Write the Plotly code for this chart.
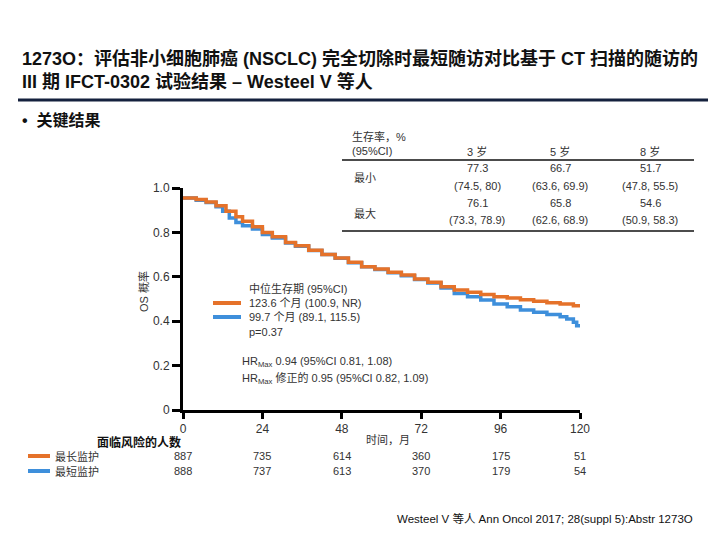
import plotly.graph_objects as go

# ---------------- data ----------------
t_long = [0, 4, 7, 10, 13, 16, 18, 21, 24, 27, 31, 34, 38, 42, 46, 50, 54, 58, 62, 66, 70, 74, 78, 82, 86, 90, 94, 98, 102, 106, 110, 114, 118, 120]
s_long = [0.955, 0.948, 0.937, 0.92, 0.895, 0.87, 0.85, 0.825, 0.80, 0.78, 0.755, 0.74, 0.72, 0.70, 0.685, 0.665, 0.645, 0.635, 0.62, 0.608, 0.59, 0.575, 0.555, 0.54, 0.53, 0.52, 0.51, 0.505, 0.497, 0.49, 0.483, 0.477, 0.47, 0.468]
t_short = [0, 4, 7, 10, 12, 14, 16, 18, 21, 24, 27, 31, 34, 38, 42, 46, 50, 54, 58, 62, 66, 70, 74, 78, 82, 86, 90, 94, 98, 102, 106, 110, 114, 116, 118, 119, 120]
s_short = [0.955, 0.945, 0.935, 0.915, 0.895, 0.865, 0.845, 0.83, 0.815, 0.79, 0.775, 0.752, 0.738, 0.718, 0.70, 0.683, 0.663, 0.645, 0.633, 0.618, 0.605, 0.588, 0.572, 0.55, 0.525, 0.51, 0.495, 0.478, 0.465, 0.45, 0.44, 0.43, 0.42, 0.41, 0.395, 0.38, 0.372]

x_ticks = [0, 24, 48, 72, 96, 120]
y_ticks = [0, 0.2, 0.4, 0.6, 0.8, 1.0]
y_tick_labels = ["0", "0.2", "0.4", "0.6", "0.8", "1.0"]
at_risk_long = [887, 735, 614, 360, 175, 51]
at_risk_short = [888, 737, 613, 370, 179, 54]
group_names = ["最长监护", "最短监护"]

table_cols = ["3 岁", "5 岁", "8 岁"]
table_rows = ["最小", "最大"]
table_est = [["77.3", "66.7", "51.7"], ["76.1", "65.8", "54.6"]]
table_ci = [["(74.5, 80)", "(63.6, 69.9)", "(47.8, 55.5)"], ["(73.3, 78.9)", "(62.6, 68.9)", "(50.9, 58.3)"]]

ORANGE = "#E5722A"
BLUE = "#3E8FDB"
FONT = "Liberation Sans, Arial, Noto Sans CJK SC, sans-serif"
TXT = "#333333"

# plot area in pixels
L, R, T, B = 183, 580, 188, 410
W, H = 720, 540

def px(x):
    return (x - L) / (R - L)

def py(y):
    return (B - y) / (B - T)

fig = go.Figure()
fig.add_trace(go.Scatter(x=t_short, y=s_short, mode="lines", line=dict(color=BLUE, width=3.5, shape="hv"),
                         showlegend=False, hoverinfo="skip"))
fig.add_trace(go.Scatter(x=t_long, y=s_long, mode="lines", line=dict(color=ORANGE, width=3.5, shape="hv"),
                         showlegend=False, hoverinfo="skip"))

ann = []
shapes = []

def text(x, y, s, size=11, color=TXT, anchor="left", bold=False, angle=0):
    if bold:
        s = "<b>" + s + "</b>"
    ann.append(dict(x=px(x), y=py(y), xref="paper", yref="paper", text=s, showarrow=False,
                    xanchor=anchor, yanchor="middle", textangle=angle,
                    font=dict(family=FONT, size=size, color=color)))

def hline(x0, x1, y, color, width):
    shapes.append(dict(type="line", xref="paper", yref="paper", x0=px(x0), x1=px(x1), y0=py(y), y1=py(y),
                       line=dict(color=color, width=width)))

# title
text(20, 58, "1273O：评估非小细胞肺癌 (NSCLC) 完全切除时最短随访对比基于 CT 扫描的随访的", size=18, color="#111111", bold=True)
text(20, 81, "III 期 IFCT-0302 试验结果 – Westeel V 等人", size=18, color="#111111", bold=True)
hline(18, 708, 100, "#14213D", 3)
text(20, 120, "•  关键结果", size=16, color="#111111", bold=True)

# survival table
text(350, 136, "生存率，%", size=11)
text(350, 151, "(95%CI)", size=11)
col_x = [477, 560, 650]
for cx, c in zip(col_x, table_cols):
    text(cx, 151, c, size=11, anchor="center")
hline(342, 694, 160, "#111111", 1.5)
row_y = [(168, 186, 178), (203, 220, 213)]
for (y1, y2, yl), r, est, ci in zip(row_y, table_rows, table_est, table_ci):
    text(352, yl, r, size=11)
    for cx, e, c in zip(col_x, est, ci):
        text(cx, y1, e, size=11, anchor="center")
        text(cx, y2, c, size=11, anchor="center")
hline(342, 694, 231, "#111111", 1.5)

# in-plot legend / stats
text(247, 288, "中位生存期 (95%CI)", size=11)
hline(213, 241, 303, ORANGE, 4)
text(247, 303, "123.6 个月 (100.9, NR)", size=11)
hline(213, 241, 317, BLUE, 4)
text(247, 317, "99.7 个月 (89.1, 115.5)", size=11)
text(247, 332, "p=0.37", size=11)
text(240, 362, "HR<sub>Max</sub> 0.94 (95%CI 0.81, 1.08)", size=11)
text(240, 378, "HR<sub>Max</sub> 修正的 0.95 (95%CI 0.82, 1.09)", size=11)

# y title
text(143, 292, "OS 概率", size=11, anchor="center", angle=-90)

# x title and at-risk
text(139, 442, "面临风险的人数", size=12, color="#111111", anchor="center", bold=True)
text(388, 440, "时间，月", size=11, anchor="center")
hline(28, 50, 456, ORANGE, 4)
hline(28, 50, 471, BLUE, 4)
text(53, 456, group_names[0], size=11)
text(53, 471, group_names[1], size=11)
for xv, a, b in zip(x_ticks, at_risk_long, at_risk_short):
    ann.append(dict(x=xv, y=py(456), xref="x", yref="paper", text=str(a), showarrow=False,
                    xanchor="center", yanchor="middle", font=dict(family=FONT, size=11, color=TXT)))
    ann.append(dict(x=xv, y=py(471), xref="x", yref="paper", text=str(b), showarrow=False,
                    xanchor="center", yanchor="middle", font=dict(family=FONT, size=11, color=TXT)))

# footer
text(395, 518, "Westeel V 等人 Ann Oncol 2017; 28(suppl 5):Abstr 1273O", size=11.5, color="#111111")

fig.update_layout(
    width=W, height=H,
    margin=dict(l=L, r=W - R, t=T, b=H - B, pad=0),
    paper_bgcolor="white", plot_bgcolor="white",
    annotations=ann, shapes=shapes,
    xaxis=dict(range=[0, 120], tickvals=x_ticks, ticktext=[str(v) for v in x_ticks],
               showline=True, linecolor="black", linewidth=3, ticks="outside", ticklen=6, tickwidth=3,
               tickcolor="black", showgrid=False, zeroline=False,
               tickfont=dict(family=FONT, size=12, color=TXT)),
    yaxis=dict(range=[0, 1.0], tickvals=y_ticks, ticktext=y_tick_labels,
               showline=True, linecolor="black", linewidth=3, ticks="outside", ticklen=8, tickwidth=3,
               tickcolor="black", showgrid=False, zeroline=False,
               tickfont=dict(family=FONT, size=12, color=TXT)),
)

fig.write_html("out.html", config={"displayModeBar": False},
               post_script="document.body.style.margin='0';")
